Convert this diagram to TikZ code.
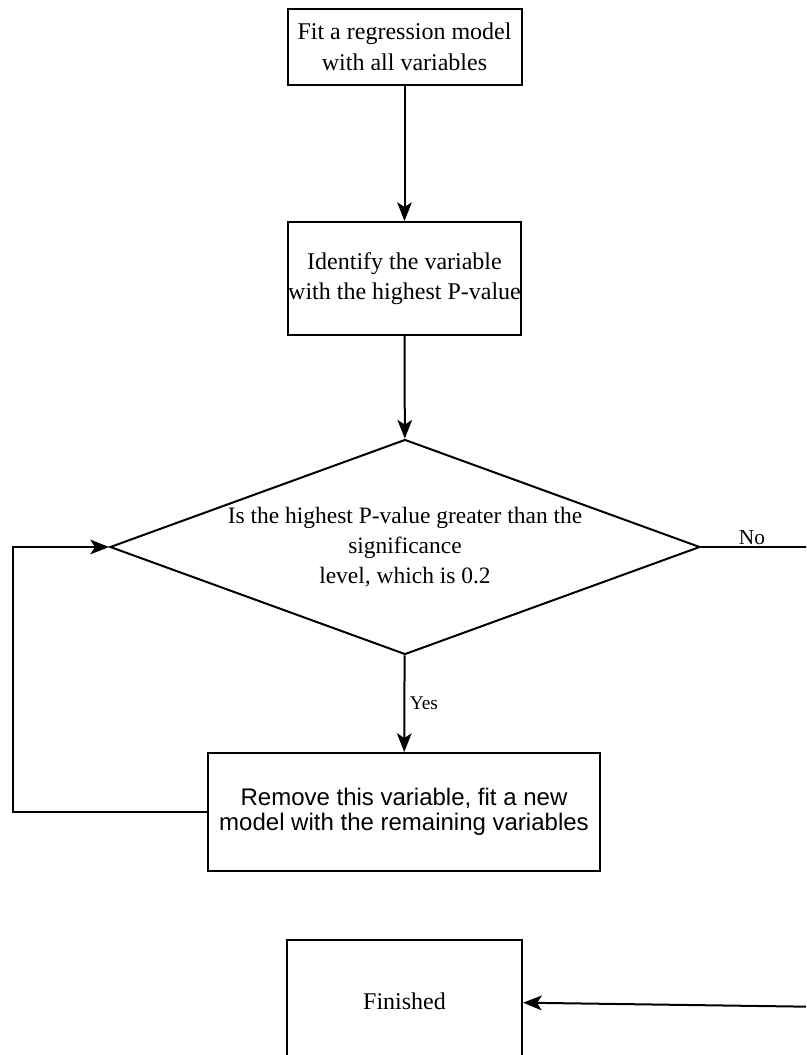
\documentclass[tikz,border=0pt]{standalone}
\usepackage{fontspec}
\setmainfont{Liberation Serif}
\newfontfamily\arialfont{Liberation Sans}
\usetikzlibrary{shapes.geometric,arrows.meta}
\tikzset{
  stepbox/.style={draw, line width=1.5pt, align=center, inner sep=0pt,
    font=\fontsize{18}{23}\selectfont},
  decision/.style={diamond, draw, line width=1.5pt, align=center, inner sep=0pt,
    aspect=2.74, minimum width=442.5pt, minimum height=161.25pt,
    font=\fontsize{17.6}{22.5}\selectfont},
}
\begin{document}
\begin{tikzpicture}[x=0.75pt, y=-0.75pt]
      \useasboundingbox (0,0) rectangle (806,1055);
      \clip (0,0) rectangle (806,1055);
      \draw
        (404.5,47) node[stepbox, minimum width=175.5pt, minimum height=57pt] (0)
          {Fit a regression model\\with all variables}
        (404.5,278.5) node[stepbox, minimum width=174.75pt, minimum height=84.75pt] (1)
          {Identify the variable\\with the highest P-value}
        (405,547) node[decision] (2)
          {Is the highest P-value greater than the\\significance\\level, which is 0.2}
        (404,812) node[stepbox, minimum width=294pt, minimum height=88.5pt,
          font=\arialfont\fontsize{18}{19}\selectfont] (3)
          {Remove this variable, fit a new\\model with the remaining variables}
        (404.5,1001) node[stepbox, minimum width=176.25pt, minimum height=91.5pt] (4)
          {Finished};
      \coordinate (5) at (830,547);
      \coordinate (6) at (830,1007);
      \coordinate (7) at (13,812);
      \begin{scope}[line width=1.5pt, -{Stealth[length=14pt, width=11pt, inset=3.5pt]}]
        \draw (0) to (1);
        \draw (1) to (2);
        \draw (2) to node[right, pos=0.5, font=\fontsize{14.5}{16}\selectfont] {Yes} (3);
        \draw (3) -- (7) |- (2);
        \draw (6) to (4);
      \end{scope}
      \draw[line width=1.5pt] (2) -- (5) -- (6);
      \node[fill=white, inner sep=1pt, font=\fontsize{16}{18}\selectfont] (8)
        at (752,538) {No};
    \end{tikzpicture}
\end{document}
